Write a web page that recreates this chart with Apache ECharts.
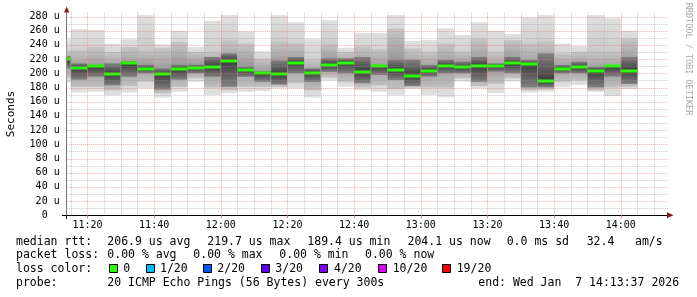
<!DOCTYPE html>
<html><head><meta charset="utf-8">
<script src="https://cdn.jsdelivr.net/npm/echarts@6/dist/echarts.min.js"></script>
<style>html,body{margin:0;padding:0;background:#fff}#c{width:697px;height:297px}</style>
</head><body><div id="c"></div>
<script>
// ---- data (microseconds), one entry per 5-minute step starting 11:10 ----
const firstStep = '11:10';
const stepMinutes = 5;
const smokeMax = [248,262,261,242,248,282,241,260,237,274,282,259,231,282,272,248,275,236,257,257,282,245.5,247,263.4,254,271.4,260,255.4,278.9,282,242,238.5,282,277.5,260];
const smokeHi  = [232,233,237,230,237,233,236,244,230,230,247,242,221,245,242,219,242,230,238,234,263,235,230.5,242,230.5,249,230,247,242,245,228,230,230.5,230.5,249];
const coreHi   = [224,214,212,214,217,212,207,212,212,223,228,209,203,218,223,207,221,221,223,212,219,219,211.7,218.8,216.4,223,214,223,218.8,228,211.7,216.4,209,211.7,223];
const median   = [220.6,208,210,198.6,214,206.6,198.6,206.6,207.5,209,217.8,204.7,200,198.6,215,201,212,215,202,210.3,204.7,196.2,203.8,210.3,208.4,210.3,210.3,214,213.1,189.2,206.6,208.4,203.8,210.3,203.8];
const coreLo   = [207,191,195,183,195,200,177,191,200,195,181,195,188,184,200,188,202,200,186,197.6,190.6,182,195.3,200,200,188,202.3,200,180,180,200,200,180,195.3,185];
const smokeLo  = [194,181,181,176,182,188,172,181,193,180,176,181,181,181,186,176,194,188,180,183,178,180,180,180,193,182,185,193,176,177,188,190,176,180,181];
const smokeMin = [187,173,174,169,173,179,166,174,188,169,172,174,175,179,179,166,190,181,176,174,169,178,169.5,166.2,188.3,178.9,171.8,188.3,172.8,174,180.3,183.6,174,168,178];
const yTicks = [0,20,40,60,80,100,120,140,160,180,200,220,240,260,280];
const xTickLabels = ['11:20','11:40','12:00','12:20','12:40','13:00','13:20','13:40','14:00'];
const viewStart = '11:13:46', viewEnd = '14:13:46';
const lossLegend = [['0','#26ff00'],['1/20','#00b8ff'],['2/20','#0059ff'],['3/20','#5e00ff'],['4/20','#7e00ff'],['10/20','#dd00ff'],['19/20','#ff0000']];

function toMin(s){const p=s.split(':').map(Number);return p[0]*60+p[1]+(p[2]||0)/60;}
function fmt(m){const h=Math.floor(m/60),mm=Math.round(m%60);return h+':'+(mm<10?'0':'')+mm;}
const t0 = toMin(firstStep);
const xMin = toMin(viewStart), xMax = toMin(viewEnd);
const yMax = 286;
const xTicks = xTickLabels.map(toMin);

const smokeData = median.map((m,i)=>[t0+i*stepMinutes, t0+(i+1)*stepMinutes, smokeMin[i], smokeLo[i], coreLo[i], m, coreHi[i], smokeHi[i], smokeMax[i]]);
const vGrid = []; for(let t=Math.ceil(xMin/5)*5; t<xMax; t+=5) vGrid.push([t, t%20===0?1:0]);
const hGrid = []; for(let v=10; v<=yMax; v+=10) hGrid.push([v, v%20===0?1:0]);

const MONO = 'DejaVu Sans Mono';
const chart = echarts.init(document.getElementById('c'), null, {renderer:'canvas'});
const RED = 'rgba(225,110,110,0.55)', GRAY = 'rgba(150,150,150,0.5)';

function smokeItem(params, api){
  const cs = params.coordSys;
  const s = api.value(0), e = api.value(1);
  const vals = [2,3,4,5,6,7,8].map(k=>api.value(k));
  const [vmin, vlo, clo, med, chi, vhi, vmax] = vals;
  const box = {x:cs.x, y:cs.y, width:cs.width, height:cs.height};
  function r(lo, hi){
    const p0 = api.coord([s, hi]), p1 = api.coord([e, lo]);
    return echarts.graphic.clipRectByRect({x:p0[0], y:p0[1], width:p1[0]-p0[0], height:p1[1]-p0[1]}, box);
  }
  const ch = [];
  const outer = r(vmin, vmax); if(!outer) return;
  ch.push({type:'rect', shape:outer, style:{fill:new echarts.graphic.LinearGradient(0,0,0,1,[{offset:0,color:'#e0e0e0'},{offset:0.5,color:'#c8c8c8'},{offset:1,color:'#e0e0e0'}])}});
  const mid = r(vlo, vhi);
  if(mid) ch.push({type:'rect', shape:mid, style:{fill:new echarts.graphic.LinearGradient(0,0,0,1,[{offset:0,color:'#c6c6c6'},{offset:0.5,color:'#9a9a9a'},{offset:1,color:'#c0c0c0'}])}});
  const core = r(clo, chi);
  if(core){
    const f = Math.min(0.95, Math.max(0.05, (chi-med)/(chi-clo)));
    ch.push({type:'rect', shape:core, style:{fill:new echarts.graphic.LinearGradient(0,0,0,1,[{offset:0,color:'#808080'},{offset:f,color:'#3c3c3c'},{offset:1,color:'#808080'}])}});
  }
  const pm = api.coord([s, med]), pe = api.coord([e, med]);
  const ml = echarts.graphic.clipRectByRect({x:pm[0], y:Math.round(pm[1])-1.5, width:pe[0]-pm[0], height:3}, box);
  if(ml) ch.push({type:'rect', shape:ml, style:{fill:'#26ff00'}});
  return {type:'group', children:ch};
}
function vGridItem(params, api){
  const cs = params.coordSys;
  const x = Math.round(api.coord([api.value(0), 0])[0]) + 0.5;
  const major = api.value(1) === 1;
  return {type:'line', shape:{x1:x, y1:cs.y, x2:x, y2:cs.y+cs.height}, style:{stroke: major ? RED : GRAY, lineWidth:1, lineDash:[1,1]}};
}
function hGridItem(params, api){
  const cs = params.coordSys;
  const y = Math.round(api.coord([xMin, api.value(0)])[1]) + 0.5;
  const major = api.value(1) === 1;
  return {type:'line', shape:{x1:cs.x, y1:y, x2:cs.x+cs.width+2, y2:y}, style:{stroke: major ? RED : GRAY, lineWidth:1, lineDash:[1,1]}};
}

const legendRows = [241.7, 255, 269, 282.7];
const txt = (x, y, s, extra) => Object.assign({type:'text', x:x, y:y, style:{text:s, font:'11.5px "'+MONO+'"', fill:'#000', textVerticalAlign:'middle'}}, extra||{});
const graphics = [
  txt(16, legendRows[0], 'median rtt:'),
  txt(107.3, legendRows[0], '206.9 us avg'),
  txt(207.3, legendRows[0], '219.7 us max'),
  txt(307.3, legendRows[0], '189.4 us min'),
  txt(407.5, legendRows[0], '204.1 us now'),
  txt(506.7, legendRows[0], '0.0 ms sd'),
  txt(586.7, legendRows[0], '32.4'),
  txt(635, legendRows[0], 'am/s'),
  txt(16, legendRows[1], 'packet loss:'),
  txt(107.3, legendRows[1], '0.00 % avg'),
  txt(193.3, legendRows[1], '0.00 % max'),
  txt(279.3, legendRows[1], '0.00 % min'),
  txt(365, legendRows[1], '0.00 % now'),
  txt(16, legendRows[2], 'loss color:'),
  txt(16, legendRows[3], 'probe:'),
  txt(107.3, legendRows[3], '20 ICMP Echo Pings (56 Bytes) every 300s'),
  txt(478.3, legendRows[3], 'end: Wed Jan  7 14:13:37 2026'),
  {type:'text', x:11, y:114, rotation:Math.PI/2, style:{text:'Seconds', font:'11px "'+MONO+'"', fill:'#000', align:'center', verticalAlign:'middle'}},
  {type:'text', x:688.5, y:59, rotation:-Math.PI/2, style:{text:'RRDTOOL / TOBI OETIKER', font:'8.5px "'+MONO+'"', fill:'#a8a8a8', align:'center', verticalAlign:'middle'}},
  {type:'polygon', shape:{points:[[667,212.3],[673.5,215.3],[667,218.3]]}, style:{fill:'#8b1a1a'}},
  {type:'polygon', shape:{points:[[64,12.5],[66.7,6.5],[69.4,12.5]]}, style:{fill:'#8b1a1a'}},
  {type:'line', shape:{x1:62, y1:215.5, x2:67, y2:215.5}, style:{stroke:'#000', lineWidth:1}},
  {type:'line', shape:{x1:66.5, y1:215, x2:66.5, y2:219}, style:{stroke:'#000', lineWidth:1}}
];
const sqX = [108.5, 145.7, 203.3, 261, 319.3, 378.3, 441.7];
const lbX = [123.3, 160, 217.3, 275.3, 334, 392.7, 456.7];
lossLegend.forEach(([lab,col],i)=>{
  graphics.push({type:'rect', shape:{x:Math.round(sqX[i])+0.5, y:264.5, width:8, height:8}, style:{fill:col, stroke:'#000', lineWidth:1}});
  graphics.push(txt(lbX[i], legendRows[2], lab));
});

chart.setOption({
  animation:false,
  backgroundColor:'#fff',
  grid:{left:66.7, right:697-666.7, top:215.3-yMax*0.71, bottom:297-215.3},
  xAxis:{type:'value', min:xMin, max:xMax,
    axisLine:{lineStyle:{color:'#000', width:1}},
    axisTick:{show:true, customValues:xTicks, length:3, inside:false, lineStyle:{color:'#e08080'}},
    axisLabel:{customValues:xTicks, formatter:v=>fmt(v), color:'#000', fontFamily:MONO, fontSize:10, margin:5},
    splitLine:{show:false}},
  yAxis:{type:'value', min:0, max:yMax, interval:20,
    axisLine:{show:true, lineStyle:{color:'#777', width:1}},
    axisTick:{show:false},
    axisLabel:{formatter:v=> v===0 ? '0  ' : v+' u', color:'#000', fontFamily:MONO, fontSize:10, margin:7, showMaxLabel:false},
    splitLine:{show:false}},
  series:[
    {type:'custom', renderItem:smokeItem, data:smokeData, encode:{x:[0,1], y:[2,8]}, z:2, silent:true},
    {type:'custom', renderItem:vGridItem, data:vGrid, encode:{x:0}, z:3, silent:true},
    {type:'custom', renderItem:hGridItem, data:hGrid, encode:{y:0}, z:3, silent:true}
  ],
  graphic:graphics
});
</script></body></html>
